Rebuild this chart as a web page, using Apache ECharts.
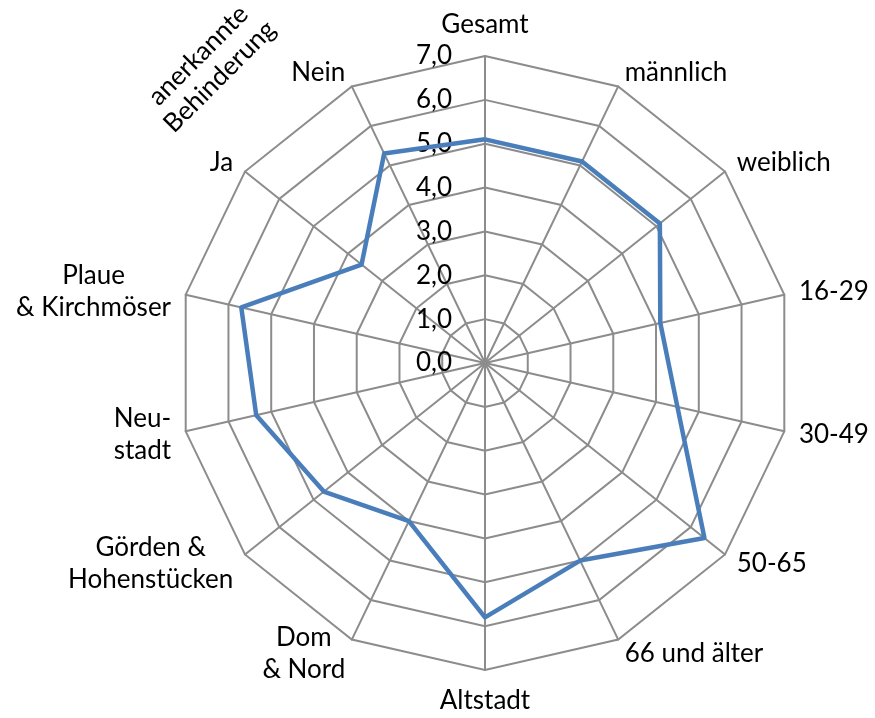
<!DOCTYPE html>
<html>
<head>
<meta charset="utf-8">
<script src="https://cdn.jsdelivr.net/npm/echarts@6/dist/echarts.min.js"></script>
<style>html,body{margin:0;padding:0;background:#fff;}#c{width:875px;height:718px;}</style>
</head>
<body>
<div id="c"></div>
<script>
// Categories in clockwise order starting at the top
const categories = ['Gesamt', 'männlich', 'weiblich', '16-29', '30-49', '50-65', '66 und älter',
  'Altstadt', 'Dom\n& Nord', 'Görden &\nHohenstücken', 'Neu-\nstadt', 'Plaue\n& Kirchmöser', 'Ja', 'Nein'];
const values = [5.1, 5.1, 5.1, 4.1, 4.5, 6.4, 5.0, 5.8, 4.0, 4.7, 5.35, 5.7, 3.6, 5.3];
const axisMax = 7;
const groupLabel = 'anerkannte\nBehinderung';

// ECharts radar runs counter-clockwise: keep first, reverse the rest
const order = [0].concat(categories.map((_, i) => i).slice(1).reverse());
const FONT = 'Lato';
const indicators = order.map((i, k) => {
  const ind = { name: categories[i], max: axisMax, min: 0 };
  if (k === 0) {
    ind.axisLabel = {
      show: true, color: '#000', fontFamily: FONT, fontSize: 26, margin: 33,
      formatter: v => Number(v).toFixed(1).replace('.', ',')
    };
  }
  return ind;
});
const orderedValues = order.map(i => values[i]);

const chart = echarts.init(document.getElementById('c'), null, { renderer: 'canvas' });
chart.setOption({
  animation: false,
  backgroundColor: '#fff',
  radar: {
    center: [485, 363],
    radius: 307,
    shape: 'polygon',
    splitNumber: 7,
    startAngle: 90,
    nameGap: 15,
    indicator: indicators,
    axisName: {
      color: '#000', fontFamily: FONT, fontSize: 26, lineHeight: 32,
      formatter: name => name.split('\n').map(s => '{c|' + s + '}').join('\n'),
      rich: { c: { align: 'center', fontFamily: FONT, fontSize: 26, lineHeight: 32, color: '#000' } }
    },
    axisLine: { lineStyle: { color: '#8c8c8c', width: 2 } },
    splitLine: { lineStyle: { color: '#8c8c8c', width: 2 } },
    splitArea: { show: false },
    axisTick: { show: false },
    axisLabel: { show: false }
  },
  series: [{
    type: 'radar',
    symbol: 'none',
    lineStyle: { color: '#4a7ebb', width: 4.5 },
    itemStyle: { color: '#4a7ebb' },
    data: [{ value: orderedValues, name: 'Wert' }]
  }],
  graphic: [{
    type: 'text',
    x: 209, y: 66,
    rotation: Math.PI / 4,
    style: {
      text: groupLabel, fontFamily: FONT, fontSize: 26, lineHeight: 30,
      fill: '#000', align: 'center', verticalAlign: 'middle'
    }
  }]
});
</script>
</body>
</html>
